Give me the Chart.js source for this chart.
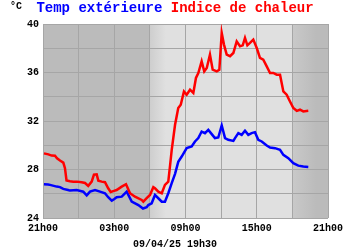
<!DOCTYPE html>
<html>
<head>
<meta charset="utf-8">
<script src="https://cdn.jsdelivr.net/npm/chart.js@4/dist/chart.umd.min.js"></script>
<style>
html,body{margin:0;padding:0;background:#fff;}
#wrap{width:350px;height:250px;}
</style>
</head>
<body>
<div id="wrap"><canvas id="c" width="350" height="250"></canvas></div>
<script>
// hours since 21h00
const tempHours = [0.08,0.42,0.59,1.15,1.43,1.71,2.11,2.27,2.84,3.39,3.68,3.96,4.38,4.8,5.22,5.49,5.79,5.98,6.2,6.63,7.05,7.47,8.03,8.42,8.73,8.87,9.15,9.43,9.71,10.0,10.27,10.55,10.84,11.12,11.39,11.68,12.1,12.52,12.8,13.08,13.36,13.64,13.92,14.21,14.48,14.76,15.05,15.33,15.6,16.03,16.17,16.45,16.73,17.01,17.29,17.57,17.85,18.13,18.42,18.84,19.12,19.54,19.96,20.24,20.66,21.08,21.5,21.92,22.34];
const tempValues = [26.79,26.77,26.73,26.59,26.55,26.4,26.31,26.26,26.31,26.17,25.86,26.17,26.31,26.17,26.04,25.71,25.43,25.55,25.71,25.76,26.17,25.35,25.07,24.78,24.89,25.07,25.21,25.9,25.63,25.35,25.35,26.04,26.87,27.64,28.63,29.07,29.76,29.9,30.31,30.59,31.13,31.0,31.27,30.92,30.59,30.64,31.63,30.59,30.45,30.36,30.59,31.0,30.86,31.2,30.86,31.0,31.08,30.45,30.31,29.98,29.81,29.76,29.62,29.21,28.93,28.52,28.32,28.24,28.21];
const heatHours = [0.08,0.45,0.73,1.01,1.18,1.43,1.71,1.85,1.98,2.27,2.55,2.86,3.26,3.54,3.81,4.1,4.29,4.52,4.66,4.94,5.22,5.49,5.7,5.98,6.2,6.63,6.99,7.33,7.75,8.31,8.45,8.73,9.01,9.29,9.43,9.71,10.0,10.27,10.55,10.69,10.84,11.12,11.39,11.6,11.87,12.1,12.38,12.66,12.88,13.08,13.36,13.58,13.79,14.06,14.29,14.63,14.85,15.05,15.24,15.47,15.75,16.03,16.31,16.59,16.82,17.01,17.21,17.43,17.71,18.0,18.27,18.55,18.84,19.12,19.39,19.68,19.96,20.24,20.52,20.8,21.08,21.37,21.64,21.92,22.34];
const heatValues = [29.33,29.25,29.15,29.13,28.93,28.74,28.57,28.11,27.1,27.03,27.0,27.0,26.95,26.89,26.65,27.0,27.58,27.6,27.08,27.0,26.95,26.45,26.15,26.24,26.31,26.59,26.79,26.04,25.76,25.49,25.35,25.63,25.9,26.54,26.45,26.17,26.04,26.73,27.0,28.24,29.62,31.69,33.07,33.34,34.44,34.17,34.58,34.31,35.55,35.96,36.92,36.09,36.37,37.47,36.23,36.09,36.23,39.26,38.3,37.47,37.34,37.61,38.57,38.16,38.24,38.85,38.24,38.44,38.71,38.02,37.2,37.06,36.5,35.96,35.96,35.82,35.82,34.44,34.17,33.61,33.07,32.84,32.93,32.79,32.84];
const xTickHours = [0,6,12,18,24];
const xTickLabels = ['21h00','03h00','09h00','15h00','21h00'];
const yTickValues = [24,28,32,36,40];
const yTickLabels = ['24','28','32','36','40'];
const unitLabel = '°C';
const seriesNames = ['Temp extérieure','Indice de chaleur'];
const footerLabel = '09/04/25 19h30';
const sunriseHour = 9.0;
const sunsetHour = 21.0;

const FONT = '"Liberation Mono", "Courier New", monospace';

const bgPlugin = {
  id: 'daynight',
  beforeDraw(chart) {
    const {ctx, chartArea: a, scales} = chart;
    const x = scales.x;
    ctx.save();
    ctx.fillStyle = '#bbbbbb';
    ctx.fillRect(a.left, a.top, a.right - a.left, a.bottom - a.top);
    const xr = x.getPixelForValue(sunriseHour);
    const xs = x.getPixelForValue(sunsetHour);
    ctx.fillStyle = '#e0e0e0';
    ctx.fillRect(xr, a.top, xs - xr, a.bottom - a.top);
    const g1 = ctx.createLinearGradient(xr, 0, xr + 16, 0);
    g1.addColorStop(0, '#cecece');
    g1.addColorStop(1, '#e0e0e0');
    ctx.fillStyle = g1;
    ctx.fillRect(xr, a.top, 16, a.bottom - a.top);
    const g2 = ctx.createLinearGradient(xs, 0, xs + 24, 0);
    g2.addColorStop(0, '#c9c9c9');
    g2.addColorStop(1, '#bbbbbb');
    ctx.fillStyle = g2;
    ctx.fillRect(xs, a.top, 24, a.bottom - a.top);
    ctx.restore();
  },
  afterDraw(chart) {
    const ctx = chart.ctx;
    ctx.save();
    ctx.textBaseline = 'middle';
    ctx.fillStyle = '#000';
    ctx.font = 'bold 10px ' + FONT;
    ctx.textAlign = 'left';
    ctx.fillText(unitLabel, 10, 6);
    ctx.font = 'bold 14px ' + FONT;
    const full = seriesNames[0] + ' ' + seriesNames[1];
    const w = ctx.measureText(full).width;
    const x0 = 175 - w / 2;
    ctx.fillStyle = '#0000ff';
    ctx.fillText(seriesNames[0], x0, 8);
    const w0 = ctx.measureText(seriesNames[0] + ' ').width;
    ctx.fillStyle = '#ff0000';
    ctx.fillText(seriesNames[1], x0 + w0, 8);
    ctx.fillStyle = '#000';
    ctx.font = 'bold 10px ' + FONT;
    ctx.textAlign = 'center';
    ctx.fillText(footerLabel, 175, 244);
    ctx.restore();
  }
};

new Chart(document.getElementById('c'), {
  type: 'line',
  data: {
    datasets: [
      {label: seriesNames[1], data: heatHours.map((h,i)=>({x:h,y:heatValues[i]})), borderColor:'#ff0000', borderWidth:2.5, pointRadius:0, tension:0, fill:false},
      {label: seriesNames[0], data: tempHours.map((h,i)=>({x:h,y:tempValues[i]})), borderColor:'#0000ff', borderWidth:2.5, pointRadius:0, tension:0, fill:false}
    ]
  },
  options: {
    responsive: false,
    animation: false,
    devicePixelRatio: 1,
    layout: {padding: {top: 24, right: 22, left: 0, bottom: 0}},
    plugins: {legend: {display:false}, title:{display:false}, tooltip:{enabled:false}},
    scales: {
      x: {
        type: 'linear', min: 0, max: 24,
        afterFit(s){ s.height = 32; },
        grid: {color:'#a6a6a6', lineWidth:1, drawTicks:false},
        border: {display:false},
        ticks: {
          stepSize: 3, padding: 4, maxRotation: 0, autoSkip: false,
          color: '#000', font: {family: FONT, size: 10, weight: 'bold'},
          callback(v){ const i = xTickHours.indexOf(v); return i >= 0 ? xTickLabels[i] : ''; }
        }
      },
      y: {
        min: 24, max: 40,
        afterFit(s){ s.width = 43; },
        grid: {color:'#a6a6a6', lineWidth:1, drawTicks:false},
        border: {display:false},
        ticks: {
          stepSize: 2, padding: 4, autoSkip: false,
          color: '#000', font: {family: FONT, size: 10, weight: 'bold'},
          callback(v){ const i = yTickValues.indexOf(v); return i >= 0 ? yTickLabels[i] : ''; }
        }
      }
    }
  },
  plugins: [bgPlugin]
});
</script>
</body>
</html>
